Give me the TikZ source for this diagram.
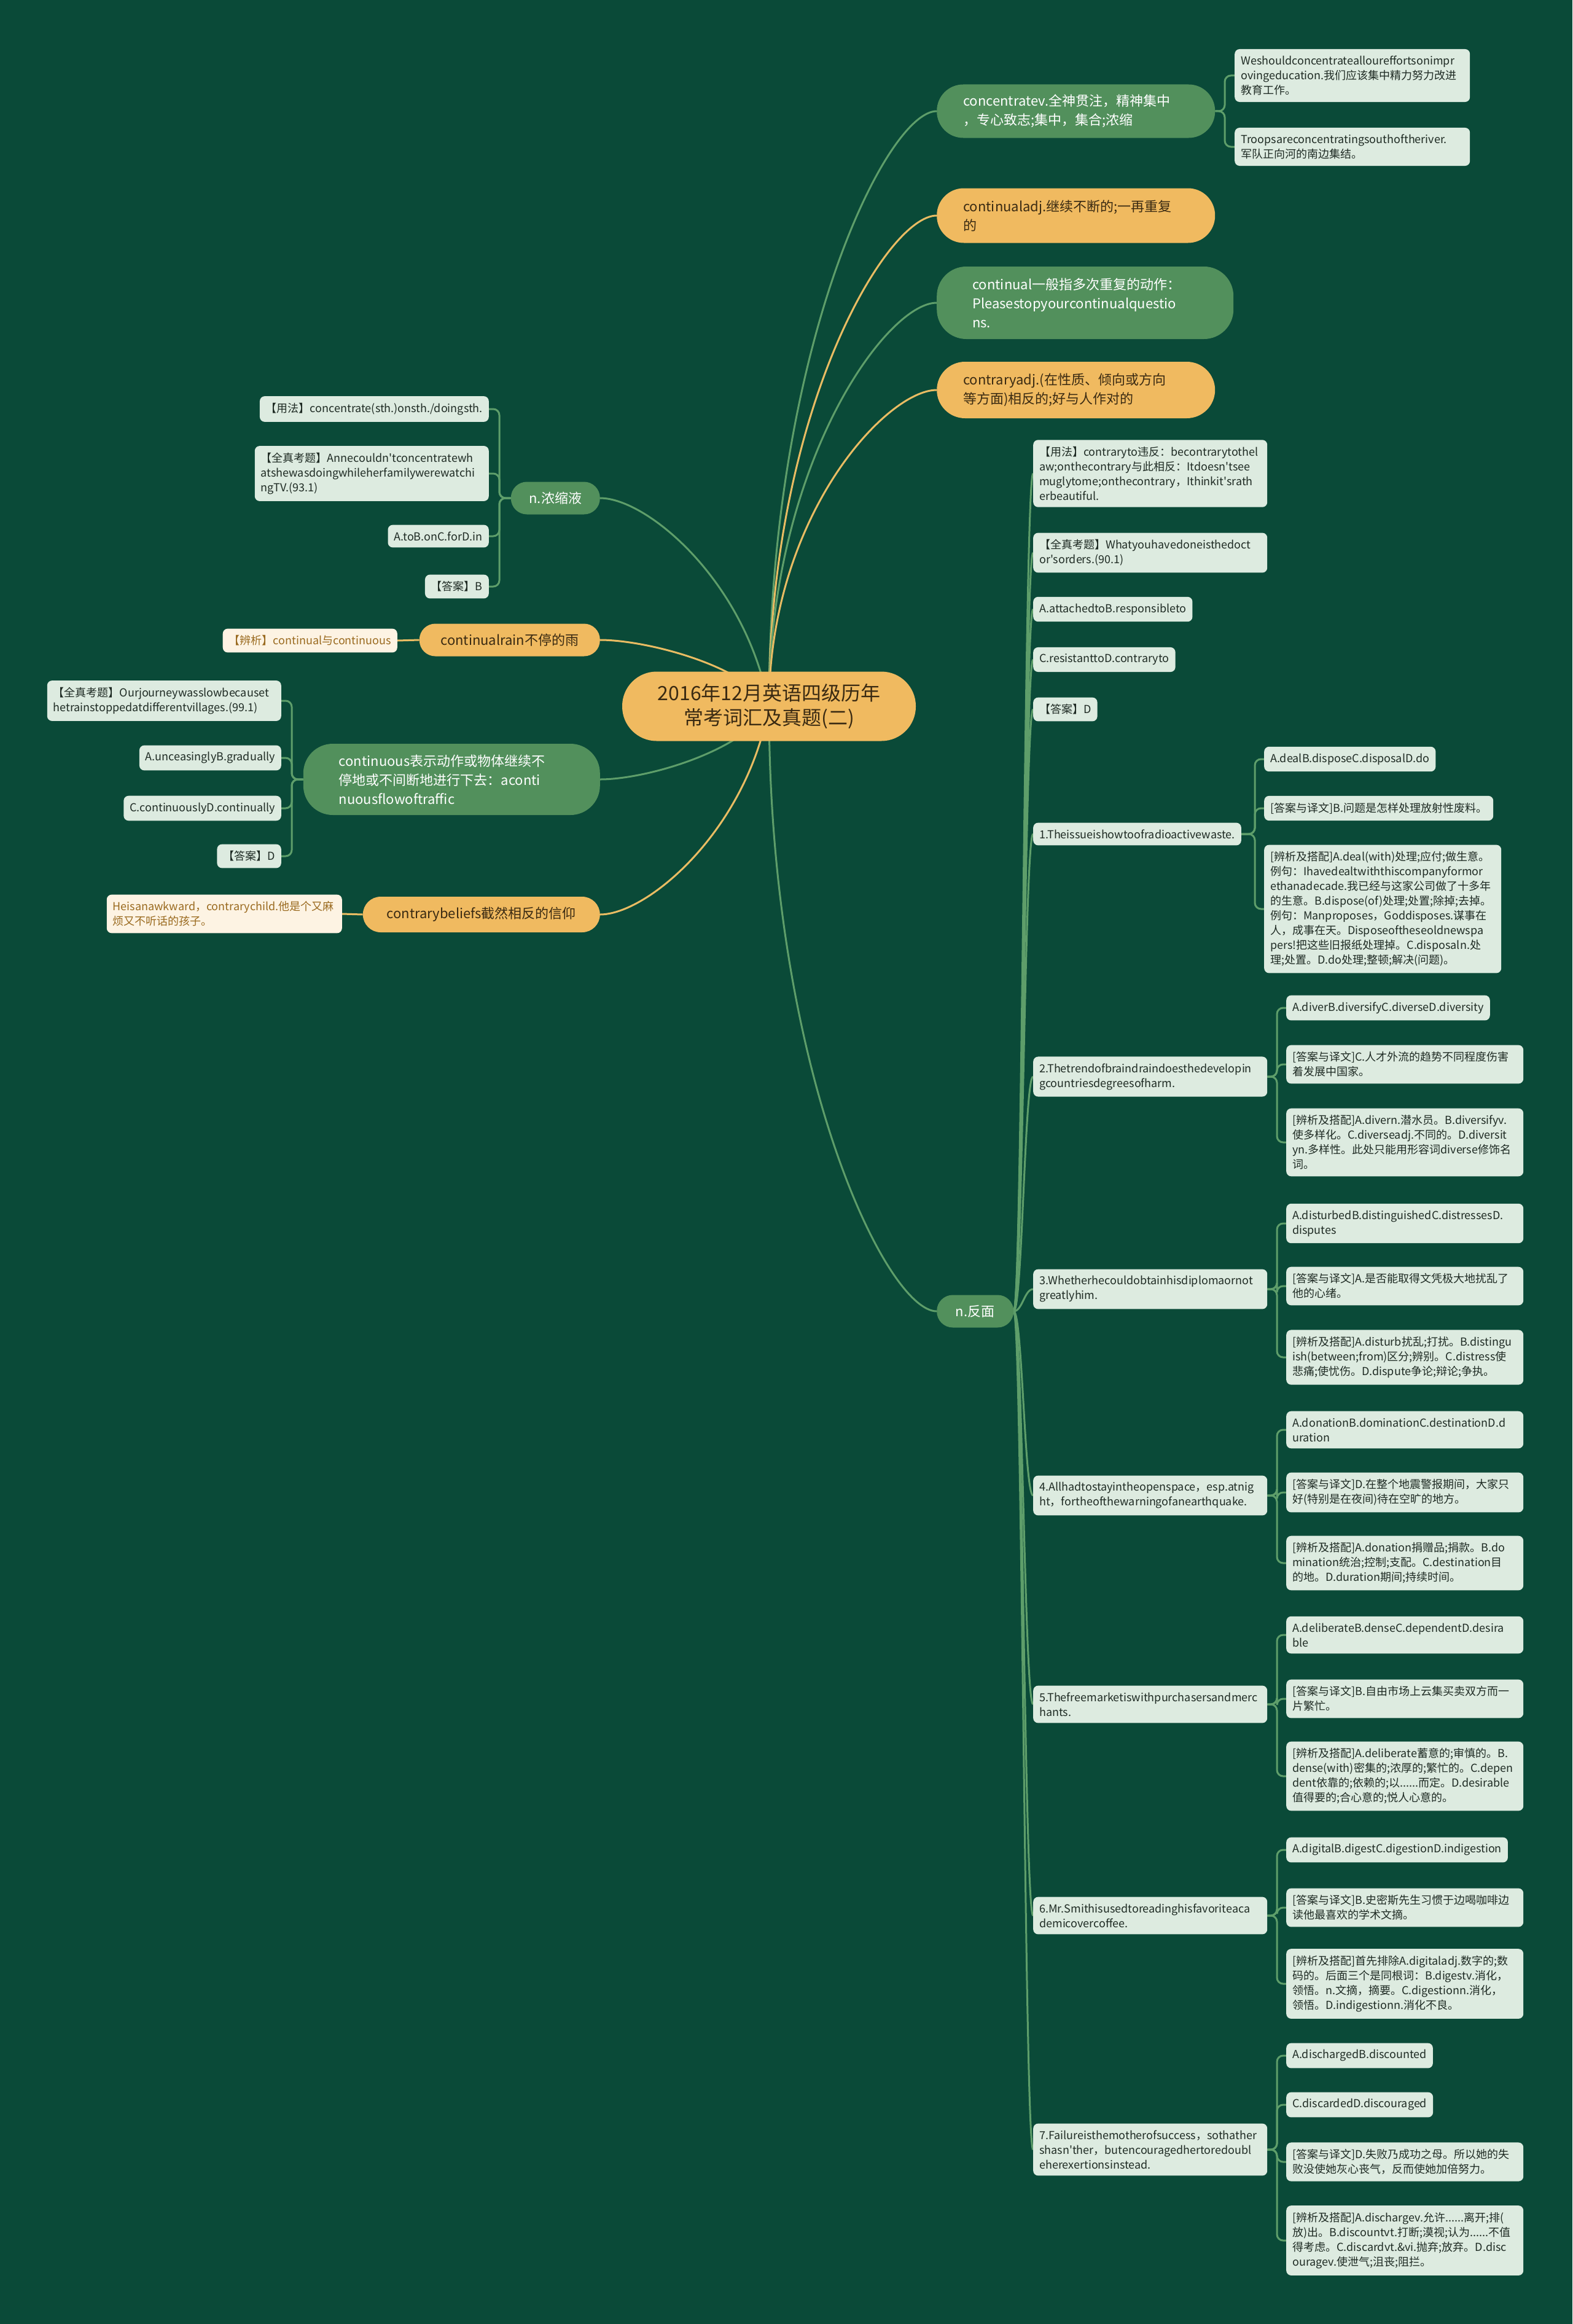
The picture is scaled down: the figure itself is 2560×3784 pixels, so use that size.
\documentclass[tikz,border=0pt]{standalone}
\usepackage{fontspec}
\setmainfont{Noto Sans CJK SC}[Ligatures=TeXOff]
\usetikzlibrary{calc}
\hyphenpenalty=10000
\exhyphenpenalty=10000
\definecolor{bgdark}{HTML}{0A4A38}
\definecolor{nodegreen}{HTML}{52905C}
\definecolor{nodeorange}{HTML}{F0BA60}
\definecolor{leafgreen}{HTML}{DDEBE0}
\definecolor{leafcream}{HTML}{FDF3E3}
\definecolor{linegreen}{HTML}{5E9E6A}
\definecolor{lineorange}{HTML}{E9BC63}
\definecolor{textbrown}{HTML}{3A2A12}
\definecolor{textochre}{HTML}{9A6A1F}
\definecolor{textdark}{HTML}{1F2B24}
\pgfdeclarelayer{back}
\pgfdeclarelayer{links}
\pgfsetlayers{back,links,main}

\begin{document}
\begin{tikzpicture}[x=1pt, y=-1pt,
    root/.style={fill=nodeorange, text=textbrown, rounded corners=56pt, minimum width=478pt,
                 minimum height=113pt, align=center, font=\fontsize{32}{40}\selectfont},
    gbranch/.style={fill=nodegreen, text=white, font=\fontsize{22}{31}\selectfont, inner ysep=6pt},
    obranch/.style={fill=nodeorange, text=textbrown, font=\fontsize{22}{31}\selectfont, inner ysep=6pt},
    wide/.style={align=left, text width=367pt, inner xsep=43pt},
    wider/.style={align=left, text width=367pt, inner xsep=58pt},
    short/.style={align=center, inner xsep=0pt, minimum height=53pt},
    leaf/.style={fill=leafgreen, text=textdark, rounded corners=8pt, font=\fontsize{18}{24}\selectfont,
                 align=left, inner xsep=10pt, inner ysep=11pt},
    cream/.style={leaf, fill=leafcream, text=textochre},
    glink/.style={draw=linegreen, line width=3pt},
    olink/.style={draw=lineorange, line width=3pt},
    elbow/.style={glink, rounded corners=10pt}]

  \begin{pgfonlayer}{back}
    \fill[bgdark] (0,0) rectangle (2560,3784);
  \end{pgfonlayer}
  \useasboundingbox (0,0) rectangle (2560,3784);

  \node[root] (ctr) at (1252,1150) {2016年12月英语四级历年\\常考词汇及真题(二)};

  % right side
  \node[gbranch, wide, minimum height=87pt, rounded corners=43pt, anchor=west] (conc) at (1525,181)
    {concentratev.全神贯注，精神集中\\，专心致志;集中，集合;浓缩};
  \node[obranch, wide, minimum height=89pt, rounded corners=44pt, anchor=west] (cadj) at (1525,351)
    {continualadj.继续不断的;一再重复\\的};
  \node[gbranch, wider, minimum height=118pt, rounded corners=48pt, anchor=west] (cgen) at (1525,493)
    {continual一般指多次重复的动作：\\Pleasestopyourcontinualquestio\\ns.};
  \node[obranch, wide, minimum height=92pt, rounded corners=46pt, anchor=west] (cont) at (1525,635)
    {contraryadj.(在性质、倾向或方向\\等方面)相反的;好与人作对的};
  \node[gbranch, short, minimum width=125pt, rounded corners=26pt, anchor=west] (fanmian) at (1525,2135) {n.反面};

  % left side
  \node[gbranch, short, minimum width=145pt, rounded corners=26pt, anchor=east] (nonsuo) at (977,811) {n.浓缩液};
  \node[obranch, short, minimum width=294pt, rounded corners=26pt, anchor=east] (crain) at (977,1042) {continualrain不停的雨};
  \node[gbranch, wider, minimum height=116pt, rounded corners=48pt, anchor=east] (cous) at (977,1269)
    {continuous表示动作或物体继续不\\停地或不间断地进行下去：aconti\\nuousflowoftraffic};
  \node[obranch, short, minimum width=386pt, minimum height=58pt, rounded corners=29pt, anchor=east] (cbel) at (977,1489)
    {contrarybeliefs截然相反的信仰};

  \node[leaf, text width=363pt, anchor=west] (ex1) at (2010,123)
    {Weshouldconcentrateallouref{}fortsonimpr\\ovingeducation.我们应该集中精力努力改进\\教育工作。};
  \node[leaf, text width=363pt, anchor=west] (ex2) at (2010,239)
    {Troopsareconcentratingsouthoftheriver.\\军队正向河的南边集结。};

  \node[leaf, anchor=east] (yfA) at (796,666) {【用法】concentrate(sth.)onsth./doingsth.};
  \node[leaf, text width=361pt, anchor=east] (zkA) at (796,771)
    {【全真考题】Annecouldn't{}concentratewh\\atshewasdoingwhileherfamilywerewatchi\\ngTV.(93.1)};
  \node[leaf, anchor=east] (optA) at (796,873) {A.toB.onC.forD.in};
  \node[leaf, anchor=east] (ansA) at (796,955) {【答案】B};
  \node[cream, anchor=east] (bxA) at (647,1043) {【辨析】continual与continuous};
  \node[leaf, text width=361pt, anchor=east] (zkB) at (458,1141)
    {【全真考题】Ourjourneywasslowbecauset\\hetrainstoppedatdifferentvillages.(99.1)};
  \node[leaf, anchor=east] (optB1) at (458,1234) {A.unceasinglyB.gradually};
  \node[leaf, anchor=east] (optB2) at (458,1316) {C.continuouslyD.continually};
  \node[leaf, anchor=east] (ansB) at (458,1394) {【答案】D};
  \node[cream, text width=363pt, anchor=east] (exC) at (557,1488)
    {Heisanawkward，contrarychild.他是个又麻\\烦又不听话的孩子。};

  % n.反面
  \node[leaf, text width=361pt, anchor=west] (yfD) at (1682,771)
    {【用法】contraryto违反：becontrarytothel\\aw;onthecontrary与此相反：Itdoesn't{}see\\muglytome;onthecontrary，Ithinkit's{}rath\\erbeautiful.};
  \node[leaf, text width=361pt, anchor=west] (zkD) at (1682,900)
    {【全真考题】Whatyouhavedoneisthedoct\\or's{}orders.(90.1)};
  \node[leaf, anchor=west] (optD1) at (1682,992) {A.attachedtoB.responsibleto};
  \node[leaf, anchor=west] (optD2) at (1682,1074) {C.resistanttoD.contraryto};
  \node[leaf, anchor=west] (ansD) at (1682,1155) {【答案】D};
  \node[leaf, anchor=west] (q1) at (1682,1358) {1.Theissueishowtoofradioactivewaste.};
  \node[leaf, text width=361pt, anchor=west] (q2) at (1682,1753)
    {2.Thetrendofbraindraindoesthedevelopin\\gcountriesdegreesofharm.};
  \node[leaf, text width=361pt, anchor=west] (q3) at (1682,2099)
    {3.Whetherhecouldobtainhisdiplomaornot\\greatlyhim.};
  \node[leaf, text width=361pt, anchor=west] (q4) at (1682,2435)
    {4.Allhadtostayintheopenspace，esp.atnig\\ht，fortheofthewarningofanearthquake.};
  \node[leaf, text width=361pt, anchor=west] (q5) at (1682,2775)
    {5.Thefreemarketiswithpurchasersandmerc\\hants.};
  \node[leaf, text width=361pt, anchor=west] (q6) at (1682,3119)
    {6.Mr.Smithisusedtoreadinghisfavoriteaca\\demicovercoffee.};
  \node[leaf, text width=361pt, anchor=west] (q7) at (1682,3500)
    {7.Failureisthemotherofsuccess，sothather\\shasn't{}her，butencouragedhertoredoubl\\eherexertionsinstead.};

  \node[leaf, anchor=west] (q1a) at (2058,1236) {A.dealB.disposeC.disposalD.do};
  \node[leaf, anchor=west] (q1b) at (2058,1316) {[答案与译文]B.问题是怎样处理放射性废料。};
  \node[leaf, text width=366pt, anchor=west] (q1c) at (2058,1480)
    {[辨析及搭配]A.deal(with)处理;应付;做生意。\\例句：Ihavedealtwiththiscompanyformor\\ethanadecade.我已经与这家公司做了十多年\\的生意。B.dispose(of)处理;处置;除掉;去掉。\\例句：Manproposes，Goddisposes.谋事在\\人，成事在天。Disposeoftheseoldnewspa\\pers!把这些旧报纸处理掉。C.disposaln.处\\理;处置。D.do处理;整顿;解决(问题)。};

  \node[leaf, anchor=west] (q2a) at (2094,1641) {A.diverB.diversifyC.diverseD.diversity};
  \node[leaf, text width=366pt, anchor=west] (q2b) at (2094,1733)
    {[答案与译文]C.人才外流的趋势不同程度伤害\\着发展中国家。};
  \node[leaf, text width=366pt, anchor=west] (q2c) at (2094,1860)
    {[辨析及搭配]A.divern.潜水员。B.diversifyv.\\使多样化。C.diverseadj.不同的。D.diversit\\yn.多样性。此处只能用形容词diverse修饰名\\词。};

  \node[leaf, text width=366pt, anchor=west] (q3a) at (2094,1992)
    {A.disturbedB.distinguishedC.distressesD.\\disputes};
  \node[leaf, text width=366pt, anchor=west] (q3b) at (2094,2094)
    {[答案与译文]A.是否能取得文凭极大地扰乱了\\他的心绪。};
  \node[leaf, text width=366pt, anchor=west] (q3c) at (2094,2210)
    {[辨析及搭配]A.disturb扰乱;打扰。B.distingu\\ish(between;from)区分;辨别。C.distress使\\悲痛;使忧伤。D.dispute争论;辩论;争执。};

  \node[leaf, text width=366pt, anchor=west] (q4a) at (2094,2328)
    {A.donationB.dominationC.destinationD.d\\uration};
  \node[leaf, text width=366pt, anchor=west] (q4b) at (2094,2430)
    {[答案与译文]D.在整个地震警报期间，大家只\\好(特别是在夜间)待在空旷的地方。};
  \node[leaf, text width=366pt, anchor=west] (q4c) at (2094,2545)
    {[辨析及搭配]A.donation捐赠品;捐款。B.do\\mination统治;控制;支配。C.destination目\\的地。D.duration期间;持续时间。};

  \node[leaf, text width=366pt, anchor=west] (q5a) at (2094,2662)
    {A.deliberateB.denseC.dependentD.desira\\ble};
  \node[leaf, text width=366pt, anchor=west] (q5b) at (2094,2766)
    {[答案与译文]B.自由市场上云集买卖双方而一\\片繁忙。};
  \node[leaf, text width=366pt, anchor=west] (q5c) at (2094,2892)
    {[辨析及搭配]A.deliberate蓄意的;审慎的。B.\\dense(with)密集的;浓厚的;繁忙的。C.depen\\dent依靠的;依赖的;以......而定。D.desirable\\值得要的;合心意的;悦人心意的。};

  \node[leaf, anchor=west] (q6a) at (2094,3012) {A.digitalB.digestC.digestionD.indigestion};
  \node[leaf, text width=366pt, anchor=west] (q6b) at (2094,3106)
    {[答案与译文]B.史密斯先生习惯于边喝咖啡边\\读他最喜欢的学术文摘。};
  \node[leaf, text width=366pt, anchor=west] (q6c) at (2094,3230)
    {[辨析及搭配]首先排除A.digitaladj.数字的;数\\码的。后面三个是同根词：B.digestv.消化，\\领悟。n.文摘，摘要。C.digestionn.消化，\\领悟。D.indigestionn.消化不良。};

  \node[leaf, anchor=west] (q7a) at (2094,3347) {A.dischargedB.discounted};
  \node[leaf, anchor=west] (q7b) at (2094,3427) {C.discardedD.discouraged};
  \node[leaf, text width=366pt, anchor=west] (q7c) at (2094,3520)
    {[答案与译文]D.失败乃成功之母。所以她的失\\败没使她灰心丧气，反而使她加倍努力。};
  \node[leaf, text width=366pt, anchor=west] (q7d) at (2094,3648)
    {[辨析及搭配]A.dischargev.允许......离开;排(\\放)出。B.discountvt.打断;漠视;认为......不值\\得考虑。C.discardvt.\&vi.抛弃;放弃。D.disc\\ouragev.使泄气;沮丧;阻拦。};

  \begin{pgfonlayer}{links}
    \draw[glink] (ctr.center) .. controls (1252,569) and (1443,181) .. (conc.west);
    \draw[olink] (ctr.center) .. controls (1252,671) and (1443,351) .. (cadj.west);
    \draw[glink] (ctr.center) .. controls (1252,756) and (1443,493) .. (cgen.west);
    \draw[olink] (ctr.center) .. controls (1252,841) and (1443,635) .. (cont.west);
    \draw[glink] (ctr.center) .. controls (1252,1741) and (1443,2135) .. (fanmian.west);
    \draw[glink] (ctr.center) .. controls (1215,947) and (1054,811) .. (nonsuo.east);
    \draw[olink] (ctr.center) .. controls (1215,1085) and (1054,1042) .. (crain.east);
    \draw[glink] (ctr.center) .. controls (1215,1221) and (1054,1269) .. (cous.east);
    \draw[olink] (ctr.center) .. controls (1215,1353) and (1054,1489) .. (cbel.east);

    \foreach \c in {ex1,ex2}
      \draw[elbow] (conc.east) -| ([xshift=-16pt]\c.west) -- (\c.west);
    \foreach \c in {yfA,zkA,optA,ansA}
      \draw[elbow] (nonsuo.west) -| ([xshift=17pt]\c.east) -- (\c.east);
    \foreach \c in {zkB,optB1,optB2,ansB}
      \draw[elbow] (cous.west) -| ([xshift=17pt]\c.east) -- (\c.east);
    \draw[olink] (crain.west) -- (bxA.east);
    \draw[olink] (cbel.west) -- (exC.east);

    \foreach \c in {yfD,zkD,optD1,optD2,ansD,q1,q2,q3,q4,q5,q6,q7}
      \draw[glink] (fanmian.east) .. controls ($(fanmian.east)+(14,0)$) and ($(\c.west)+(-14,0)$) .. (\c.west);

    \foreach \p/\c in {q1/q1a,q1/q1b,q1/q1c,q2/q2a,q2/q2b,q2/q2c,q3/q3a,q3/q3b,q3/q3c,
                      q4/q4a,q4/q4b,q4/q4c,q5/q5a,q5/q5b,q5/q5c,q6/q6a,q6/q6b,q6/q6c,
                      q7/q7a,q7/q7b,q7/q7c,q7/q7d}
      \draw[elbow] (\p.east) -| ([xshift=-15pt]\c.west) -- (\c.west);
  \end{pgfonlayer}
\end{tikzpicture}
\end{document}
